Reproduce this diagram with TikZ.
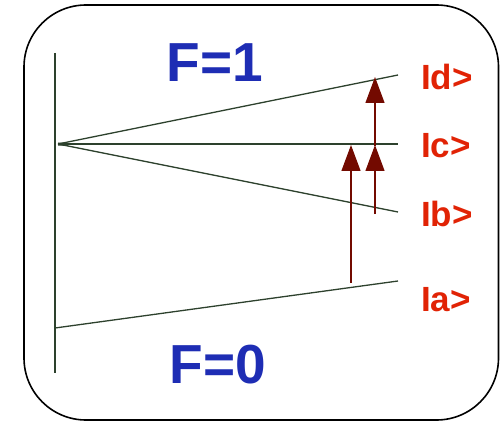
\documentclass[tikz,border=0pt]{standalone}
\usepackage{fontspec}
\setmainfont{Liberation Sans}
\usetikzlibrary{arrows.meta}
\definecolor{lvl}{RGB}{45,65,45}
\definecolor{arr}{RGB}{115,10,0}
\definecolor{lab}{RGB}{225,35,5}
\definecolor{fblue}{RGB}{30,45,180}
\begin{document}
\begin{tikzpicture}[x=1pt,y=-1pt,
  level/.style={draw=lvl,line width=1.3pt},
  trans/.style={draw=arr,line width=1.3pt,-{Triangle[length=26pt,width=19pt]},shorten >=-1pt},
  ket/.style={text=lab,font=\fontsize{35}{35}\selectfont\bfseries,anchor=west,inner sep=0pt},
  fl/.style={text=fblue,font=\fontsize{55}{55}\selectfont\bfseries,inner sep=0pt}]
\useasboundingbox (0,0) rectangle (500,422);
\draw[line width=1.6pt,rounded corners=62pt] (24,5) rectangle (498.5,420);
\draw[draw=lvl,line width=1.3pt] (55,53) -- (55,373);
\coordinate (o) at (58,144);
\coordinate (d) at (398,75);
\coordinate (c) at (398,144);
\coordinate (b) at (398,212);
\coordinate (a0) at (55,328);
\coordinate (a) at (398,281);
\draw[level] (o) -- (d);
\draw[level] (o) -- (c);
\draw[level] (o) -- (b);
\draw[level] (a0) -- (a);
\fill[lvl] (58,142.5) -- (68,143) -- (68,146) -- (58,145.5) -- cycle;
\coordinate (t1s) at (351,283);
\coordinate (t1e) at (351,146);
\coordinate (t2s) at (375,214);
\coordinate (t2e) at (375,146);
\coordinate (t3s) at (375,146);
\coordinate (t3e) at (375,78);
\draw[trans] (t1s) -- (t1e);
\draw[trans] (t2s) -- (t2e);
\draw[trans] (t3s) -- (t3e);
\node[ket] (kd) at (421,77) {Id>};
\node[ket] (kc) at (421,146) {Ic>};
\node[ket] (kb) at (421,214) {Ib>};
\node[ket] (ka) at (421,300) {Ia>};
\node[fl] (f1) at (215,63) {F=1};
\node[fl] (f0) at (218,365) {F=0};
\end{tikzpicture}
\end{document}
